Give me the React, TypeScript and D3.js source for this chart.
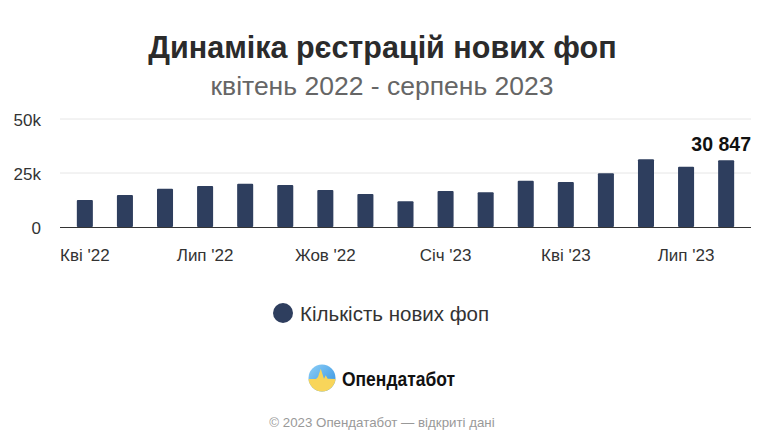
import React from 'react';
import { scaleBand, scaleLinear, format } from 'd3';

const months = [
  "Кві '22", "Тра '22", "Чер '22", "Лип '22", "Сер '22", "Вер '22", "Жов '22", "Лис '22", "Гру '22",
  "Січ '23", "Лют '23", "Бер '23", "Кві '23", "Тра '23", "Чер '23", "Лип '23", "Сер '23",
];
const newFop = [
  12500, 14800, 17700, 19000, 20000, 19400, 17100, 15300, 11900,
  16700, 16100, 21400, 20800, 24900, 31400, 27900, 30847,
];
const shownTicks = ["Кві '22", "Лип '22", "Жов '22", "Січ '23", "Кві '23", "Лип '23"];
const yTicks = [0, 25000, 50000];

const title = 'Динаміка рєстрацій нових фоп';
const subtitle = 'квітень 2022 - серпень 2023';
const seriesName = 'Кількість нових фоп';

const W = 764;
const H = 446;
const plot = { left: 60, right: 751, top: 119, bottom: 227 };
const barColor = '#2e3e5e';
const font = '"Liberation Sans", Arial, Helvetica, sans-serif';

export default function App() {
  const x = scaleBand<string>()
    .domain(months)
    .range([plot.left, plot.right])
    .paddingInner(0.6)
    .paddingOuter(0.42);
  const y = scaleLinear().domain([0, 50000]).range([plot.bottom, plot.top]);

  const yFmt = (v: number) => (v === 0 ? '0' : `${v / 1000}k`);
  const lastIdx = months.length - 1;
  const lastLabel = format(',')(newFop[lastIdx]).replace(/,/g, ' ');

  return (
    <div style={{ position: 'absolute', left: 0, top: 0, width: W, height: H, background: '#fff' }}>
      <svg width={W} height={H} style={{ display: 'block', fontFamily: font }}>
        <text x={W / 2 + 0.5} y={58} textAnchor="middle" fontSize={30.5} fontWeight="bold" fill="#2b2b2b">
          {title}
        </text>
        <text x={W / 2} y={95} textAnchor="middle" fontSize={26.5} fill="#666">
          {subtitle}
        </text>

        {yTicks.map(t => (
          <g key={t}>
            {t !== 0 && (
              <line x1={plot.left} x2={plot.right} y1={y(t)} y2={y(t)} stroke="#e6e6e6" strokeWidth={1} />
            )}
            <text x={41} y={y(t) + 6.5} textAnchor="end" fontSize={17} fill="#333">
              {yFmt(t)}
            </text>
          </g>
        ))}

        {months.map((m, i) => (
          <rect
            key={m}
            x={x(m)}
            y={y(newFop[i])}
            width={x.bandwidth()}
            height={y(0) - y(newFop[i])}
            fill={barColor}
            rx={1}
          />
        ))}

        <line x1={plot.left} x2={plot.right} y1={y(0) + 0.5} y2={y(0) + 0.5} stroke="#333" strokeWidth={1} />

        {shownTicks.map(m => (
          <text
            key={m}
            x={(x(m) ?? 0) + x.bandwidth() / 2}
            y={261}
            textAnchor="middle"
            fontSize={17}
            fill="#333"
          >
            {m}
          </text>
        ))}

        <text
          x={plot.right}
          y={y(newFop[lastIdx]) - 9}
          textAnchor="end"
          fontSize={19.5}
          fontWeight="bold"
          fill="#111"
        >
          {lastLabel}
        </text>

        <circle cx={283} cy={313} r={10} fill={barColor} />
        <text x={300} y={320.5} fontSize={20.5} fill="#333">
          {seriesName}
        </text>

        <defs>
          <clipPath id="logoClip">
            <circle cx={322} cy={378} r={13.5} />
          </clipPath>
          <linearGradient id="logoSky" x1="0" y1="0" x2="1" y2="1">
            <stop offset="0" stopColor="#8fd0f7" />
            <stop offset="1" stopColor="#2f8fe0" />
          </linearGradient>
        </defs>
        <g clipPath="url(#logoClip)">
          <rect x={308} y={364} width={28} height={28} fill="url(#logoSky)" />
          <path
            d="M308,379 L316,379 L318,377 L320.7,368.7 L324,378.7 L325.7,375.3 L327.7,378.7 L336,379 L336,392 L308,392 Z"
            fill="#f8d55a"
          />
        </g>
        <text
          x={342}
          y={386}
          fontSize={21}
          fontWeight="bold"
          fill="#111"
          textLength={113}
          lengthAdjust="spacingAndGlyphs"
        >
          Опендатабот
        </text>

        <text x={W / 2} y={427} textAnchor="middle" fontSize={13.3} fill="#999">
          © 2023 Опендатабот — відкриті дані
        </text>
      </svg>
    </div>
  );
}
